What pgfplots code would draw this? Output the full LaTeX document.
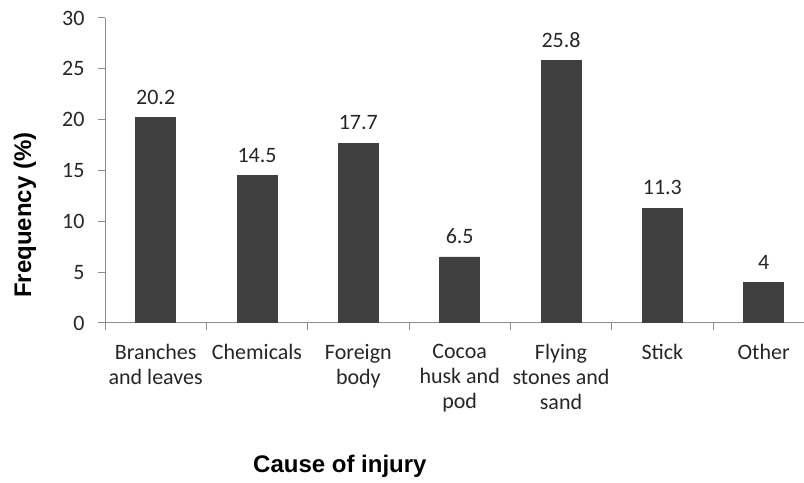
\documentclass[border=0pt]{standalone}
\usepackage{pgfplots}
\pgfplotsset{compat=1.18}
\usepackage{fontspec}
\setmainfont{Carlito}
\newfontfamily\arialf{Liberation Sans}
\definecolor{barc}{HTML}{404040}
\definecolor{axc}{HTML}{8C8C8C}
\definecolor{txt}{HTML}{262626}
\begin{document}
\begin{tikzpicture}[x=1bp,y=1bp]
\useasboundingbox (0,0) rectangle (804,483);
\begin{axis}[
  at={(105bp,160bp)}, anchor=south west,
  scale only axis, width=699bp, height=305bp,
  xmin=-0.5, xmax=6.398, ymin=0, ymax=30,
  /pgf/number format/assume math mode=true,
  axis x line=bottom, axis y line=left,
  axis line style={-, draw=axc, line width=1bp},
  tick align=outside, major tick length=7bp,
  tick style={draw=axc, line width=1bp},
  ybar, bar width=40bp,
  ytick={0,5,...,30},
  yticklabel style={font=\fontsize{22bp}{24bp}\selectfont, text=txt, xshift=-10bp},
  xtick={-0.5,0.5,...,5.5}, xticklabels={},
  extra x ticks={0,1,2,3,4,5,6},
  extra x tick labels={Branches\\and leaves, Chemicals, Foreign\\body, Cocoa\\husk and\\pod, Flying\\stones and\\sand, Stick, Other},
  extra x tick style={major tick length=0pt,
    tick label style={align=center, font=\fontsize{22bp}{25bp}\selectfont, text=txt, anchor=north, inner sep=0pt, yshift=-21bp}},
  nodes near coords,
  every node near coord/.append style={font=\fontsize{22bp}{24bp}\selectfont, text=txt, anchor=south, inner sep=0pt, yshift=13bp},
  xlabel={Cause of injury},
  xlabel style={font=\arialf\bfseries\fontsize{24bp}{26bp}\selectfont, text=black, at={(axis description cs:0.336,-0.4918)}, anchor=base},
  ylabel={Frequency (\%)},
  ylabel style={font=\arialf\bfseries\fontsize{24bp}{26bp}\selectfont, text=black, at={(axis description cs:-0.1144,0.354)}, anchor=center},
]
\addplot[fill=barc, draw=barc] coordinates {(0,20.2) (1,14.5) (2,17.7) (3,6.5) (4,25.8) (5,11.3) (6,4)};
\end{axis}
\end{tikzpicture}
\end{document}
